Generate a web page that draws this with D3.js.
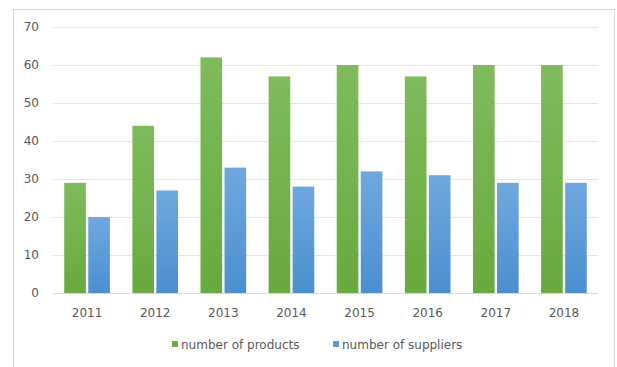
<!DOCTYPE html>
<html>
<head>
<meta charset="utf-8">
<script src="https://cdn.jsdelivr.net/npm/d3@7"></script>
<style>
  body { margin: 0; background: #fff; }
  text { font-family: "DejaVu Sans", sans-serif; fill: #595959; }
</style>
</head>
<body>
<script>
const years = ['2011', '2012', '2013', '2014', '2015', '2016', '2017', '2018']
const products = [29, 44, 62, 57, 60, 57, 60, 60]
const suppliers = [20, 27, 33, 28, 32, 31, 29, 29]
const seriesNames = ['number of products', 'number of suppliers']
const yTicks = [0, 10, 20, 30, 40, 50, 60, 70]

const width = 617
const height = 367
const margin = { top: 27, right: 19, bottom: 74, left: 53 }

let svg = d3
  .select('body')
  .append('svg')
  .attr('width', width)
  .attr('height', height)

let defs = svg.append('defs')
const grads = [
  { id: 'gGreen', top: '#7fbb5c', bottom: '#68aa3e' },
  { id: 'gBlue', top: '#6fa8de', bottom: '#4b8fd0' }
]
grads.forEach((g) => {
  let lg = defs.append('linearGradient')
    .attr('id', g.id)
    .attr('x1', 0).attr('y1', 0).attr('x2', 0).attr('y2', 1)
  lg.append('stop').attr('offset', '0%').attr('stop-color', g.top)
  lg.append('stop').attr('offset', '100%').attr('stop-color', g.bottom)
})

// chart frame
svg.append('rect')
  .attr('x', 13.5)
  .attr('y', 9.5)
  .attr('width', 601)
  .attr('height', 370)
  .attr('fill', '#fff')
  .attr('stroke', '#d9d9d9')

let x = d3.scaleBand()
  .domain(years)
  .range([margin.left, width - margin.right])
  .paddingInner(0.33)
  .paddingOuter(0.165)

let x1 = d3.scaleBand()
  .domain(seriesNames)
  .range([0, x.bandwidth()])
  .paddingInner(0.1)

let y = d3.scaleLinear()
  .domain([0, 70])
  .range([height - margin.bottom, margin.top])

// gridlines
svg.append('g')
  .selectAll('line')
  .data(yTicks)
  .join('line')
  .attr('x1', margin.left)
  .attr('x2', width - margin.right)
  .attr('y1', (d) => Math.round(y(d)) + 0.5)
  .attr('y2', (d) => Math.round(y(d)) + 0.5)
  .attr('stroke', (d) => d === 0 ? '#d9d9d9' : '#e6e6e6')

// y labels
svg.append('g')
  .selectAll('text')
  .data(yTicks)
  .join('text')
  .attr('x', 39)
  .attr('y', (d) => y(d))
  .attr('dy', '0.35em')
  .attr('text-anchor', 'end')
  .attr('font-size', 12)
  .text((d) => d)

const rows = years.map((yr, i) => ({ year: yr, values: [products[i], suppliers[i]] }))
const fills = ['url(#gGreen)', 'url(#gBlue)']

svg.append('g')
  .selectAll('g')
  .data(rows)
  .join('g')
  .attr('transform', (d) => `translate(${x(d.year)},0)`)
  .selectAll('rect')
  .data((d) => d.values.map((v, j) => ({ key: seriesNames[j], v: v, j: j })))
  .join('rect')
  .attr('x', (d) => x1(d.key))
  .attr('width', x1.bandwidth())
  .attr('y', (d) => y(d.v))
  .attr('height', (d) => y(0) - y(d.v))
  .attr('fill', (d) => fills[d.j])

// x labels
svg.append('g')
  .selectAll('text')
  .data(years)
  .join('text')
  .attr('x', (d) => x(d) + x.bandwidth() / 2)
  .attr('y', 317)
  .attr('text-anchor', 'middle')
  .attr('font-size', 12)
  .text((d) => d)

// legend
const legendX = [172, 333]
const legendColors = ['#70ad47', '#5b9bd5']
let legend = svg.append('g')
  .selectAll('g')
  .data(seriesNames)
  .join('g')
  .attr('transform', (d, i) => `translate(${legendX[i]},341)`)

legend.append('rect')
  .attr('width', 6)
  .attr('height', 6)
  .attr('fill', (d, i) => legendColors[i])

legend.append('text')
  .attr('x', 9)
  .attr('y', 4)
  .attr('dy', '0.35em')
  .attr('font-size', 12)
  .text((d) => d)
</script>
</body>
</html>
